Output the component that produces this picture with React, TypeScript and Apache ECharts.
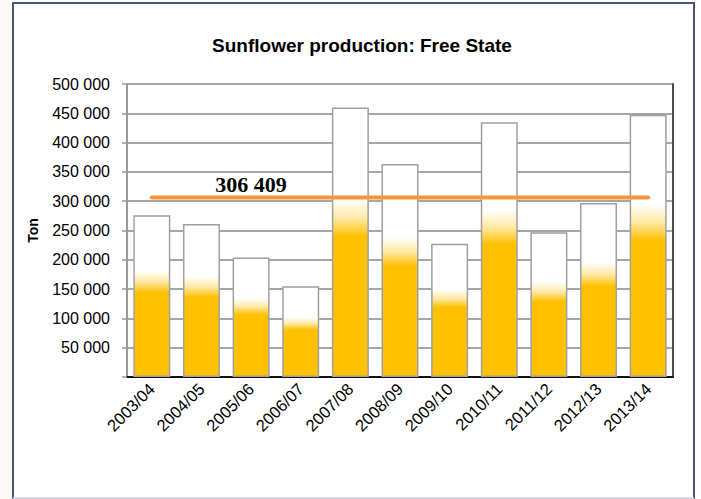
import React, { useEffect, useRef } from "react";
import * as echarts from "echarts";

const categories = [
  "2003/04", "2004/05", "2005/06", "2006/07", "2007/08", "2008/09",
  "2009/10", "2010/11", "2011/12", "2012/13", "2013/14",
];
const production = [276000, 261000, 204000, 155000, 460000, 363500, 227500, 434600, 247000, 297000, 447700];
const averageValue = 306409;
const averageLabelIndex = 2;
const yTicks = { min: 0, max: 500000, interval: 50000 };
const titleText = "Sunflower production: Free State";
const yAxisName = "Ton";

const SANS = '"Liberation Sans", Arial, sans-serif';
const SERIF = '"Liberation Serif", "Times New Roman", serif';

function fmt(v: number): string {
  if (v === 0) return "";
  return String(v).replace(/\B(?=(\d{3})+(?!\d))/g, " ");
}

export default function App() {
  const ref = useRef<HTMLDivElement>(null);
  useEffect(() => {
    if (!ref.current) return;
    const chart = echarts.init(ref.current, null, { renderer: "svg" });
    const barGradient = new echarts.graphic.LinearGradient(0, 0, 0, 1, [
      { offset: 0, color: "#ffffff" },
      { offset: 0.34, color: "#ffffff" },
      { offset: 0.41, color: "#ffe9a6" },
      { offset: 0.48, color: "#ffc000" },
      { offset: 1, color: "#ffc000" },
    ]);
    chart.setOption({
      animation: false,
      backgroundColor: "#ffffff",
      title: {
        text: titleText,
        left: 357,
        top: 31,
        textAlign: "center",
        textStyle: { fontFamily: SANS, fontSize: 19, fontWeight: "bold", color: "#000" },
      },
      graphic: [
        { type: "rect", shape: { x: 0, y: 0, width: 12, height: 499 }, style: { fill: "#fbf9f6" }, silent: true },
        { type: "line", shape: { x1: 13, y1: 3, x2: 693, y2: 3 }, style: { stroke: "#4a5575", lineWidth: 2 } },
        { type: "line", shape: { x1: 13, y1: 2, x2: 13, y2: 499 }, style: { stroke: "#4a5575", lineWidth: 2 } },
        { type: "line", shape: { x1: 694, y1: 2, x2: 694, y2: 499 }, style: { stroke: "#4a5575", lineWidth: 2 } },
        { type: "line", shape: { x1: 13, y1: 498, x2: 694, y2: 498 }, style: { stroke: "#d6d6de", lineWidth: 2 } },
      ],
      grid: { left: 127, right: 28, top: 84, bottom: 122, containLabel: false },
      xAxis: [
        {
          type: "category",
          data: categories,
          axisLine: { show: true, lineStyle: { color: "#8c8c8c", width: 2 } },
          axisTick: { show: false },
          axisLabel: {
            rotate: 45,
            interval: 0,
            margin: 9,
            fontFamily: SANS,
            fontSize: 16.5,
            color: "#000",
          },
        },
        {
          type: "category",
          position: "top",
          data: categories,
          axisLine: { show: true, lineStyle: { color: "#111", width: 2 } },
          axisTick: { show: false },
          axisLabel: { show: false },
        },
      ],
      yAxis: [
        {
          type: "value",
          min: yTicks.min,
          max: yTicks.max,
          interval: yTicks.interval,
          name: yAxisName,
          nameLocation: "middle",
          nameGap: 87,
          nameTextStyle: { fontFamily: SANS, fontSize: 14, fontWeight: "bold", color: "#000" },
          axisLine: { show: true, lineStyle: { color: "#9a9a9a", width: 2 } },
          axisTick: { show: true, length: 5, lineStyle: { color: "#9a9a9a", width: 1.5 } },
          axisLabel: { formatter: fmt, fontFamily: SANS, fontSize: 16, color: "#000", margin: 17 },
          splitLine: { show: true, lineStyle: { color: "#a6a6a6", width: 2 } },
        },
        {
          type: "value",
          position: "right",
          min: 0,
          max: 1,
          axisLine: { show: true, lineStyle: { color: "#4d4d4d", width: 2 } },
          axisTick: { show: false },
          axisLabel: { show: false },
          splitLine: { show: false },
        },
      ],
      series: [
        {
          type: "bar",
          data: production,
          barWidth: 37,
          itemStyle: { color: barGradient, borderColor: "#a0a0a0", borderWidth: 1.5 },
          z: 2,
        },
        {
          type: "line",
          data: categories.map((_, i) =>
            i === averageLabelIndex
              ? {
                  value: averageValue,
                  label: {
                    show: true,
                    position: "top",
                    distance: 2,
                    formatter: () => fmt(averageValue),
                    fontFamily: SERIF,
                    fontSize: 22,
                    fontWeight: "bold",
                    color: "#000",
                  },
                }
              : averageValue
          ),
          symbol: "circle",
          symbolSize: 0,
          showSymbol: true,
          lineStyle: { color: "#f7963c", width: 4, cap: "round" },
          itemStyle: { color: "#f7963c" },
          z: 5,
        },
      ],
    });
    return () => chart.dispose();
  }, []);
  return (
    <div
      ref={ref}
      style={{ position: "fixed", left: 0, top: 0, width: 701, height: 499 }}
    />
  );
}
